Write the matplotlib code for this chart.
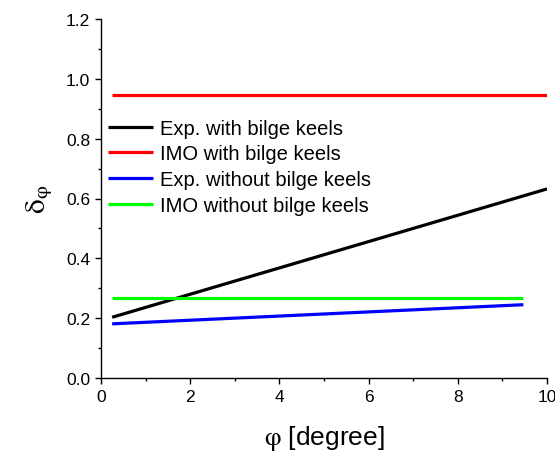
import matplotlib
matplotlib.use("Agg")
import matplotlib.pyplot as plt
from matplotlib.ticker import MultipleLocator

plt.rcParams['font.family'] = ['Liberation Sans', 'DejaVu Sans']
plt.rcParams['mathtext.fontset'] = 'stix'

# Data
labels = ["Exp. with bilge keels", "IMO with bilge keels",
          "Exp. without bilge keels", "IMO without bilge keels"]
colors = ["#000000", "#ff0000", "#0000ff", "#00ff00"]
exp_bk_x = [0.25, 10.0]
exp_bk_y = [0.203, 0.632]
imo_bk_x = [0.25, 10.0]
imo_bk_y = [0.945, 0.945]
exp_nbk_x = [0.25, 9.47]
exp_nbk_y = [0.181, 0.245]
imo_nbk_x = [0.25, 9.47]
imo_nbk_y = [0.266, 0.266]

xs = [exp_bk_x, imo_bk_x, exp_nbk_x, imo_nbk_x]
ys = [exp_bk_y, imo_bk_y, exp_nbk_y, imo_nbk_y]

fig = plt.figure(figsize=(5.55, 4.6), dpi=100)
ax = fig.add_axes([101/555, 1-379/460, 446/555, 359/460])

for x, y, c, l in zip(xs, ys, colors, labels):
    ax.plot(x, y, color=c, lw=2.3, label=l, solid_capstyle='butt')

ax.set_xlim(0, 10)
ax.set_ylim(0, 1.2)
ax.xaxis.set_major_locator(MultipleLocator(2))
ax.xaxis.set_minor_locator(MultipleLocator(1))
ax.yaxis.set_major_locator(MultipleLocator(0.2))
ax.yaxis.set_minor_locator(MultipleLocator(0.1))
ax.yaxis.set_major_formatter(matplotlib.ticker.FormatStrFormatter('%.1f'))
ax.xaxis.set_major_formatter(matplotlib.ticker.FormatStrFormatter('%d'))

for s in ['top', 'right']:
    ax.spines[s].set_visible(False)
for s in ['left', 'bottom']:
    ax.spines[s].set_linewidth(1.0)

ax.tick_params(which='major', direction='out', length=4.3, width=1.0,
               labelsize=12.5, pad=3.5, colors='black')
ax.tick_params(which='minor', direction='out', length=2.3, width=1.0)

ax.set_xlabel(r'$\mathrm{\varphi}$ [degree]', fontsize=19, labelpad=14)
ax.set_ylabel(r'$\mathrm{\delta}_{\mathrm{\varphi}}$', fontsize=21, labelpad=8)

leg = ax.legend(loc='upper left', bbox_to_anchor=(0.0157, 0.722),
                frameon=False, fontsize=14.5, handlelength=2.25,
                handletextpad=0.35, labelspacing=0.33, borderpad=0,
                borderaxespad=0)
for h in leg.get_lines():
    h.set_linewidth(2.3)

fig.savefig('out.png', dpi=100)
